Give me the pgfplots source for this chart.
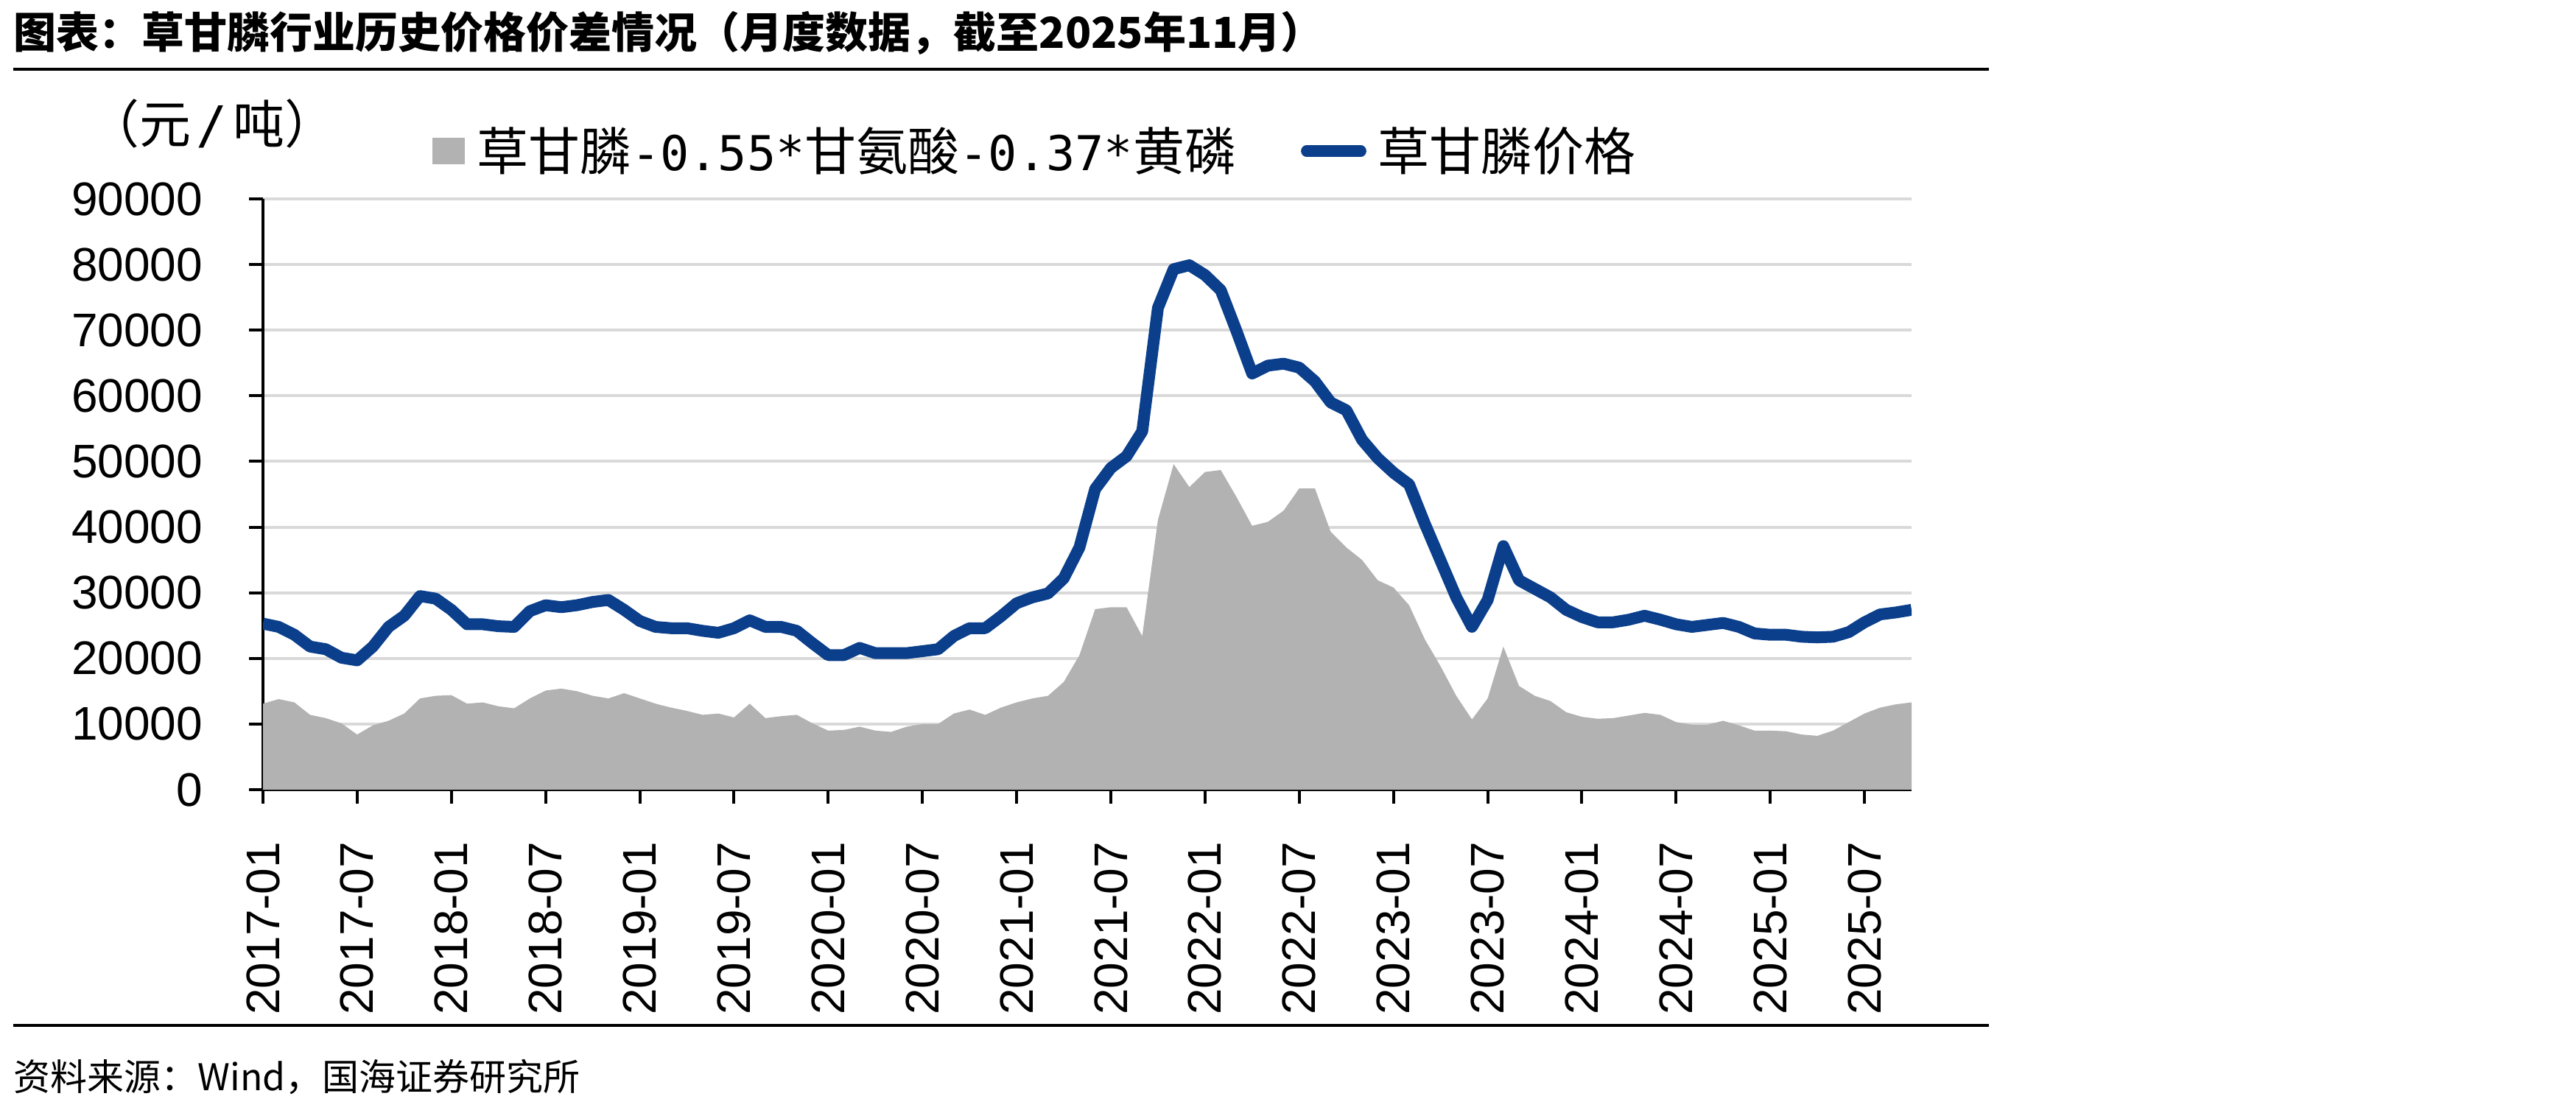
\documentclass[border=0pt]{standalone}
\usepackage{fontspec}
\setmainfont{Liberation Sans}
\newfontfamily\cjk{Noto Sans CJK SC}
\newfontfamily\legmono{DejaVu Sans Mono}
\usepackage{pgfplots}
\usepackage{pgfplotstable}
\pgfplotsset{compat=1.18}
\definecolor{areagray}{RGB}{178,178,178}
\definecolor{lineblue}{RGB}{11,63,140}
\definecolor{gridgray}{RGB}{217,217,217}
\pgfplotsset{layers/mylayers/.define layer set={axis background,axis grid,main,axis ticks,axis lines,axis tick labels,axis descriptions,axis foreground}{}}

\pgfplotstableread{
i spread price
0 13100 25300
1 13800 24800
2 13300 23600
3 11400 21800
4 10900 21400
5 10100 20100
6 8400 19700
7 9800 21800
8 10500 24800
9 11600 26500
10 13900 29500
11 14300 29100
12 14400 27400
13 13100 25200
14 13300 25200
15 12700 24900
16 12400 24800
17 13900 27200
18 15100 28100
19 15400 27800
20 15000 28100
21 14300 28600
22 13900 28900
23 14700 27400
24 13900 25700
25 13100 24800
26 12500 24600
27 12000 24600
28 11400 24200
29 11600 23900
30 11000 24600
31 13100 25800
32 10900 24800
33 11200 24800
34 11400 24200
35 10100 22300
36 9000 20500
37 9100 20500
38 9600 21600
39 9000 20800
40 8800 20800
41 9600 20800
42 10000 21100
43 10000 21400
44 11600 23400
45 12200 24600
46 11400 24600
47 12500 26400
48 13300 28400
49 13900 29300
50 14300 29900
51 16400 32200
52 20500 36900
53 27500 45800
54 27800 49000
55 27800 50800
56 23400 54600
57 41100 73400
58 49600 79300
59 46100 79900
60 48400 78400
61 48700 76100
62 44600 69900
63 40200 63400
64 40800 64600
65 42500 64900
66 45900 64300
67 45900 62200
68 39300 59000
69 36900 57800
70 35000 53300
71 31900 50500
72 30800 48300
73 28100 46500
74 22900 40500
75 18800 34900
76 14300 29300
77 10700 24800
78 13900 28900
79 21800 37100
80 15800 31900
81 14300 30600
82 13500 29300
83 11800 27400
84 11100 26300
85 10800 25500
86 10900 25500
87 11300 25900
88 11700 26500
89 11400 25900
90 10300 25200
91 9900 24800
92 9900 25100
93 10500 25400
94 9800 24800
95 9000 23800
96 9000 23600
97 8900 23600
98 8400 23300
99 8200 23200
100 9000 23300
101 10300 24000
102 11600 25500
103 12500 26700
104 13000 27000
105 13300 27400
}\data

\newcommand{\lm}[1]{{\legmono\fontsize{16.3pt}{18pt}\selectfont #1}}

\begin{document}
\begin{tikzpicture}
\path (0pt,0pt) rectangle (874.25pt,-374pt);
\node[anchor=west, inner sep=0pt, font=\cjk\bfseries\fontsize{14.5pt}{17pt}\selectfont] at (4.5pt,-11.25pt) {图表：草甘膦行业历史价格价差情况（月度数据，截至2025年11月）};
\draw[line width=1.1pt] (4.5pt,-23.5pt) -- (675pt,-23.5pt);
\draw[line width=1.1pt] (4.5pt,-348pt) -- (675pt,-348pt);
\node[anchor=west, inner sep=0pt, font=\cjk\fontsize{12.5pt}{15pt}\selectfont] at (4.5pt,-365.5pt) {资料来源：Wind，国海证券研究所};
\node[anchor=center, inner sep=0pt, font=\cjk\fontsize{17.5pt}{19pt}\selectfont] at (72pt,-42pt) {（元\kern0.1em{\legmono /}\kern0.1em 吨）};
\begin{axis}[
  set layers=mylayers,
  at={(89.25pt,-268pt)}, anchor=south west,
  scale only axis, width=559.5pt, height=200.5pt,
  xmin=0, xmax=105, ymin=0, ymax=90000,
  axis x line*=bottom, axis y line*=left,
  axis line style={-, line width=1pt, black},
  tick style={black, line width=1pt},
  tick align=outside, major tick length=4.75pt,
  xtick={0,6,...,102},
  xticklabels={2017-01,2017-07,2018-01,2018-07,2019-01,2019-07,2020-01,2020-07,2021-01,2021-07,2022-01,2022-07,2023-01,2023-07,2024-01,2024-07,2025-01,2025-07},
  ytick={0,10000,...,90000},
  scaled y ticks=false,
  /pgf/number format/1000 sep={},
  /pgf/number format/assume math mode=true,
  ymajorgrids, grid style={gridgray, line width=1pt},
  ticklabel style={font=\fontsize{16pt}{18pt}\selectfont},
  xticklabel style={rotate=90, anchor=east, inner sep=0pt},
  yticklabel style={anchor=east, inner sep=0pt},
  xticklabel shift=12.75pt,
  yticklabel shift=15.5pt,
  legend columns=2,
  legend style={at={(0.1028,1.081)}, anchor=west, draw=none, fill=none,
    inner sep=0pt, outer sep=0pt,
    font=\cjk\fontsize{17.5pt}{19pt}\selectfont,
    nodes={inner sep=0pt, anchor=west},
    /tikz/every odd column/.append style={column sep=4pt},
    /tikz/every even column/.append style={column sep=22pt}},
]
\addplot[draw=none, fill=areagray,
  legend image code/.code={\fill[areagray] (0pt,-4.5pt) rectangle (11pt,4.5pt);}]
  table[x=i, y=spread] {\data} \closedcycle;
\addlegendentry{草甘膦\lm{-0.55*}甘氨酸\lm{-0.37*}黄磷}
\addplot[lineblue, line width=4pt, line join=round,
  legend image code/.code={\draw[lineblue, line width=3.8pt, line cap=round] (1.9pt,0pt) -- (20.3pt,0pt);}]
  table[x=i, y=price] {\data};
\addlegendentry{草甘膦价格}
\end{axis}
\end{tikzpicture}
\end{document}
